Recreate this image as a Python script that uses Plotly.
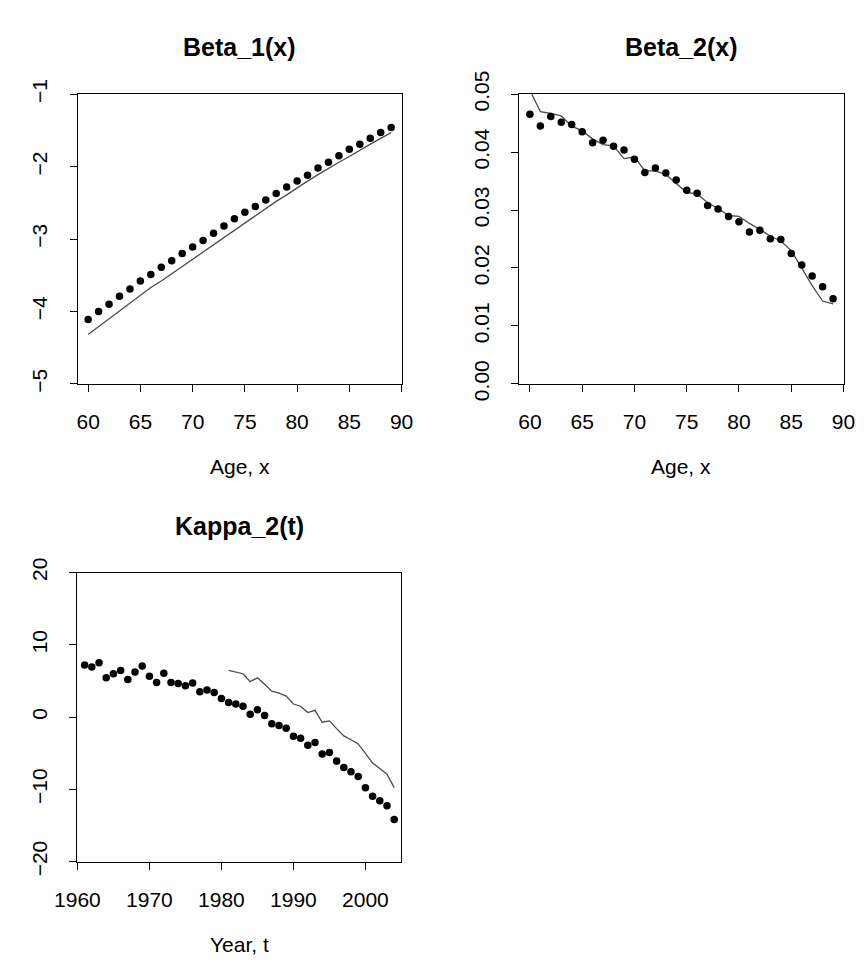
import plotly.graph_objects as go

# ---------------- data ----------------
ages = list(range(60, 90))
beta1_obs = [-4.11, -4.00, -3.90, -3.79, -3.69, -3.58, -3.49, -3.39, -3.30, -3.20,
             -3.11, -3.02, -2.92, -2.82, -2.72, -2.63, -2.55, -2.46, -2.37, -2.28,
             -2.20, -2.12, -2.02, -1.94, -1.85, -1.76, -1.69, -1.61, -1.53, -1.46]
beta1_fit = [-4.32, -4.21, -4.11, -4.00, -3.89, -3.78, -3.67, -3.58, -3.48, -3.38,
             -3.28, -3.18, -3.07, -2.97, -2.87, -2.77, -2.67, -2.58, -2.48, -2.39,
             -2.29, -2.20, -2.11, -2.02, -1.94, -1.86, -1.77, -1.69, -1.61, -1.53]

beta2_obs = [0.04653, 0.04449, 0.04614, 0.04515, 0.04477, 0.04350, 0.04163, 0.04207,
             0.04102, 0.04036, 0.03876, 0.03650, 0.03727, 0.03639, 0.03518, 0.03342,
             0.03292, 0.03077, 0.03017, 0.02890, 0.02796, 0.02620, 0.02653, 0.02504,
             0.02493, 0.02251, 0.02052, 0.01860, 0.01678, 0.01468]
beta2_fit = [0.05070, 0.04697, 0.04669, 0.04625, 0.04449, 0.04366, 0.04229, 0.04129,
             0.04107, 0.03887, 0.03915, 0.03678, 0.03678, 0.03612, 0.03457, 0.03303,
             0.03281, 0.03127, 0.03028, 0.02906, 0.02890, 0.02769, 0.02669, 0.02548,
             0.02466, 0.02300, 0.01997, 0.01694, 0.01430, 0.01380]

years = list(range(1961, 2005))
kappa2_obs = [7.20, 6.93, 7.51, 5.43, 6.00, 6.45, 5.21, 6.23, 7.06, 5.65,
              4.77, 6.05, 4.77, 4.64, 4.33, 4.72, 3.49, 3.75, 3.40, 2.56,
              2.03, 1.81, 1.50, 0.40, 1.02, 0.22, -0.93, -1.15, -1.55, -2.65,
              -2.91, -3.89, -3.53, -5.12, -4.90, -6.09, -6.98, -7.55, -8.21, -9.76,
              -10.95, -11.57, -12.27, -14.17]
fit_years = list(range(1981, 2005))
kappa2_fit = [6.45, 6.23, 6.00, 4.90, 5.43, 4.55, 3.58, 3.31, 2.91, 1.81,
              1.50, 0.62, 0.93, -0.71, -0.53, -1.59, -2.60, -3.13, -3.71, -5.03,
              -6.36, -7.11, -7.90, -9.76]

titles = ["Beta_1(x)", "Beta_2(x)", "Kappa_2(t)"]
xlabels = ["Age, x", "Age, x", "Year, t"]

# ---------------- figure ----------------
W, H = 868, 971
FONT = "Liberation Sans, Arial, Helvetica, sans-serif"
dot_col = "black"
line_col = "#4a4a4a"

fig = go.Figure()

def add_panel(i, xs, obs, xf, fit):
    xa = "x" if i == 1 else f"x{i}"
    ya = "y" if i == 1 else f"y{i}"
    fig.add_trace(go.Scatter(x=xf, y=fit, mode="lines", xaxis=xa, yaxis=ya,
                             line=dict(color=line_col, width=1.3), showlegend=False))
    fig.add_trace(go.Scatter(x=xs, y=obs, mode="markers", xaxis=xa, yaxis=ya,
                             marker=dict(color=dot_col, size=7.5), showlegend=False))

add_panel(1, ages, beta1_obs, ages, beta1_fit)
add_panel(2, ages, beta2_obs, ages, beta2_fit)
add_panel(3, years, kappa2_obs, fit_years, kappa2_fit)

boxes = {
    1: (57.0, 394.5, 73.3, 375.7),
    2: (517.3, 855.0, 73.3, 375.7),
    3: (56.7, 394.3, 572.7, 874.6),
}

def px_dom_x(a, b):
    return [a / W, b / W]

def px_dom_y(top, bot):
    return [1 - bot / H, 1 - top / H]

axis_common = dict(showline=True, mirror=True, linecolor="black", linewidth=1,
                   ticks="outside", ticklen=7, tickcolor="black", tickwidth=1,
                   showgrid=False, zeroline=False,
                   tickfont=dict(family=FONT, size=21, color="black"))
xcommon = dict(axis_common, ticklabelstandoff=12)
ycommon = dict(axis_common, ticklabelstandoff=14, tickangle=-90)

fig.update_layout(
    xaxis=dict(domain=px_dom_x(*boxes[1][:2]), range=[59, 90], anchor="y",
               tickvals=[60, 65, 70, 75, 80, 85, 90], **xcommon),
    yaxis=dict(domain=px_dom_y(*boxes[1][2:]), range=[-5, -1], anchor="x",
               tickvals=[-5, -4, -3, -2, -1], **ycommon),
    xaxis2=dict(domain=px_dom_x(*boxes[2][:2]), range=[59, 90], anchor="y2",
                tickvals=[60, 65, 70, 75, 80, 85, 90], **xcommon),
    yaxis2=dict(domain=px_dom_y(*boxes[2][2:]), range=[0, 0.05], anchor="x2",
                tickvals=[0, 0.01, 0.02, 0.03, 0.04, 0.05],
                ticktext=["0.00", "0.01", "0.02", "0.03", "0.04", "0.05"],
                **ycommon),
    xaxis3=dict(domain=px_dom_x(*boxes[3][:2]), range=[1960, 2005], anchor="y3",
                tickvals=[1960, 1970, 1980, 1990, 2000], **xcommon),
    yaxis3=dict(domain=px_dom_y(*boxes[3][2:]), range=[-20, 20], anchor="x3",
                tickvals=[-20, -10, 0, 10, 20], **ycommon),
)

annotations = []
for i in (1, 2, 3):
    x0, x1, top, bot = boxes[i]
    cx = (x0 + x1) / 2 / W
    annotations.append(dict(text="<b>%s</b>" % titles[i - 1], x=cx, y=1 - (top - 49) / H,
                            xref="paper", yref="paper", xanchor="center", yanchor="middle",
                            showarrow=False, font=dict(family=FONT, size=25, color="black")))
    annotations.append(dict(text=xlabels[i - 1], x=cx, y=1 - (bot + 86) / H,
                            xref="paper", yref="paper", xanchor="center", yanchor="middle",
                            showarrow=False, font=dict(family=FONT, size=21, color="black")))

fig.update_layout(
    width=W, height=H, margin=dict(l=0, r=0, t=0, b=0),
    paper_bgcolor="white", plot_bgcolor="white",
    annotations=annotations,
    font=dict(family=FONT, color="black"),
)

fig.write_html("out.html")
